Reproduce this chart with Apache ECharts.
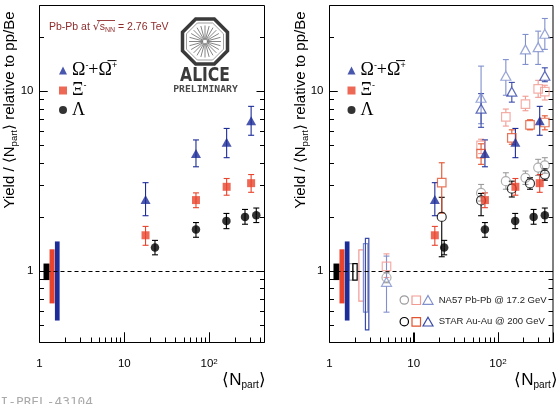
<!DOCTYPE html>
<html><head><meta charset="utf-8">
<script src="https://cdn.jsdelivr.net/npm/echarts@6/dist/echarts.min.js"></script>
<style>html,body{margin:0;padding:0;background:#fff}#c{width:556px;height:404px}</style>
</head><body><div id="c"></div>
<script>
// ---------------- data ----------------
const aliceOmegaNpart = [17.8, 70, 161, 313];
const aliceOmegaVal   = [2.5, 4.5, 5.2, 6.85];
const aliceOmegaLo    = [2.03, 3.8, 4.27, 5.69];
const aliceOmegaHi    = [3.1, 5.36, 6.21, 8.24];

const aliceXiNpart = [17.8, 70, 161, 313];
const aliceXiVal   = [1.58, 2.48, 2.94, 3.08];
const aliceXiLo    = [1.39, 2.25, 2.64, 2.74];
const aliceXiHi    = [1.77, 2.72, 3.27, 3.44];

const aliceLambdaNpart = [23, 70, 160, 265, 360];
const aliceLambdaVal   = [1.35, 1.70, 1.90, 2.0, 2.04];
const aliceLambdaLo    = [1.23, 1.54, 1.72, 1.82, 1.86];
const aliceLambdaHi    = [1.48, 1.86, 2.09, 2.2, 2.24];

const na57Npart     = [4.75, 63, 124, 212, 300, 360];
const na57LambdaVal = [0.92, 2.72, 3.16, 3.3, 3.76, 3.87];
const na57LambdaLo  = [0.86, 2.45, 2.85, 3.03, 3.4, 3.5];
const na57LambdaHi  = [0.98, 3.03, 3.52, 3.6, 4.18, 4.27];
const na57XiVal     = [1.06, 5.0, 7.2, 8.49, 10.3, 9.95];
const na57XiLo      = [0.92, 4.5, 6.4, 7.79, 9.25, 8.94];
const na57XiHi      = [1.245, 5.41, 7.96, 9.38, 11.5, 10.8];
const na57OmegaVal  = [0.87, 9.2, 12.2, 17.1, 17.6, 20.9];
const na57OmegaLo   = [0.59, 6.6, 9.5, 14.1, 14.1, 17.1];
const na57OmegaHi   = [1.21, 13.8, 15.0, 20.7, 21.6, 25.4];

const starNpart     = [21.5, 63, 146, 240, 360];
const starLambdaVal = [2.0, 2.47, 2.87, 3.07, 3.44];
const starLambdaLo  = [1.2, 2.03, 2.58, 2.85, 3.2];
const starLambdaHi  = [2.57, 2.7, 3.16, 3.3, 3.7];
const starXiVal     = [3.1, 4.5, 5.5, 6.5, 6.7];
const starXiLo      = [2.1, 3.92, 5.07, 6.1, 6.1];
const starXiHi      = [4.0, 5.1, 6.1, 6.94, 7.3];
const starOmegaNpart = [63, 146, 360];
const starOmegaVal   = [8.0, 9.95, 12.2];
const starOmegaLo    = [6.3, 8.7, 11.3];
const starOmegaHi    = [9.7, 11.2, 13.5];

const sysAliceNpartLo = [1.115, 1.314, 1.52];
const sysAliceNpartHi = [1.314, 1.506, 1.727];
const sysAliceLo      = [0.89, 0.66, 0.53];
const sysAliceHi      = [1.1, 1.32, 1.46];
const sysRefNpartLo = [1.7, 1.894, 2.232, 2.53, 2.67];
const sysRefNpartHi = [1.894, 2.129, 2.532, 2.85, 2.93];
const sysRefLo      = [0.89, 0.89, 0.68, 0.59, 0.47];
const sysRefHi      = [1.1, 1.1, 1.31, 1.42, 1.52];

const xMin = 1, xMax = 450, yMin = 0.4, yMax = 30;
const xTickLabels = {0: '1', 1: '10', 2: '10{sup|2}'};
const yTickLabels = {0: '1', 1: '10'};
const xMajorTicks = [10, 100];
const xMinorTicks = [2,3,4,5,6,7,8,9,20,30,40,50,60,70,80,90,200,300,400];
const yMajorTicks = [1, 10];
const yMinorTicks = [0.5,0.6,0.7,0.8,0.9,2,3,4,5,6,7,8,9,20];

// ---------------- styling ----------------
const C = {
  aBlue: '#1c2c98', aRed: '#e8432c', aBlack: '#000',
  nGrey: '#9c9c9c', nPink: '#f19a92', nBlue: '#8090cc',
  sBlack: '#000', sRed: '#e2532f', sBlue: '#3849a8'
};
const SANS = 'Liberation Sans, Arial, sans-serif';
const SERIF = 'Liberation Serif, DejaVu Serif, serif';

const zip = (a, b) => a.map((v, i) => [v, b[i]]);
const zip4 = (x, y, lo, hi) => x.map((v, i) => [v, y[i], lo[i], hi[i]]);

function errSeries(g, x, y, lo, hi, color, gap) {
  return {
    type: 'custom', name: 'err', xAxisIndex: g, yAxisIndex: g, silent: true, z: 3,
    data: zip4(x, y, lo, hi), encode: {x: 0, y: 1},
    renderItem: (params, api) => {
      const xv = api.value(0);
      const pc = api.coord([xv, api.value(1)]);
      const pb = api.coord([xv, api.value(2)]);
      const pt = api.coord([xv, api.value(3)]);
      const X = pc[0];
      const ch = [];
      if (pt[1] < pc[1] - gap) ch.push({type: 'line', shape: {x1: X, y1: pt[1], x2: X, y2: pc[1] - gap}, style: {stroke: color, lineWidth: 1.1}});
      if (pb[1] > pc[1] + gap) ch.push({type: 'line', shape: {x1: X, y1: pc[1] + gap, x2: X, y2: pb[1]}, style: {stroke: color, lineWidth: 1.1}});
      ch.push({type: 'line', shape: {x1: X - 3, y1: pt[1], x2: X + 3, y2: pt[1]}, style: {stroke: color, lineWidth: 1.1}});
      ch.push({type: 'line', shape: {x1: X - 3, y1: pb[1], x2: X + 3, y2: pb[1]}, style: {stroke: color, lineWidth: 1.1}});
      return {type: 'group', children: ch};
    }
  };
}
function markSeries(g, name, x, y, symbol, size, color, open) {
  return {
    type: 'scatter', name, xAxisIndex: g, yAxisIndex: g, data: zip(x, y), symbol, symbolSize: size, z: 5,
    itemStyle: open ? {color: 'rgba(0,0,0,0)', borderColor: color, borderWidth: 1.2} : {color},
    emphasis: {disabled: true}
  };
}
// inward axis ticks computed through the axis scales (api.coord)
function tickLines(api) {
  const out = [];
  const st = () => ({stroke: '#000', lineWidth: 1});
  const bottom = api.coord([xMin, yMin])[1];
  const left = api.coord([xMin, yMin])[0];
  const right = api.coord([xMax, yMin])[0];
  const xt = (v, len) => {
    const X = Math.round(api.coord([v, yMin])[0]) + 0.5;
    out.push({type: 'line', shape: {x1: X, y1: bottom, x2: X, y2: bottom - len}, style: st()});
  };
  const yt = (v, len) => {
    const Y = Math.round(api.coord([xMin, v])[1]) + 0.5;
    out.push({type: 'line', shape: {x1: left, y1: Y, x2: left + len, y2: Y}, style: st()});
    out.push({type: 'line', shape: {x1: right, y1: Y, x2: right - len, y2: Y}, style: st()});
  };
  xMajorTicks.forEach(v => xt(v, 10));
  xMinorTicks.forEach(v => xt(v, 5));
  yMajorTicks.forEach(v => yt(v, 8));
  yMinorTicks.forEach(v => yt(v, 4.5));
  return out;
}
function boxSeries(g, x1, x2, lo, hi, colors, open, withTicks) {
  return {
    type: 'custom', name: 'sys', xAxisIndex: g, yAxisIndex: g, silent: true, z: 4, clip: false,
    data: x1.map((v, i) => [v, lo[i], x2[i], hi[i]]), encode: {x: 0, y: 1},
    renderItem: (params, api) => {
      const a = api.coord([api.value(0), api.value(3)]);
      const b = api.coord([api.value(2), api.value(1)]);
      const col = colors[params.dataIndex];
      const rect = {type: 'rect', shape: {x: a[0], y: a[1], width: b[0] - a[0], height: b[1] - a[1]},
        style: open ? {fill: null, stroke: col, lineWidth: 1.2} : {fill: col}};
      if (withTicks && params.dataIndex === 0) {
        return {type: 'group', children: [rect, ...tickLines(api)]};
      }
      return rect;
    }
  };
}
function dashSeries(g) {
  return {
    type: 'scatter', name: 'unity', xAxisIndex: g, yAxisIndex: g, data: [], silent: true, z: 2,
    markLine: {silent: true, symbol: 'none', label: {show: false}, animation: false,
      lineStyle: {color: '#000', type: [4, 3], width: 1}, data: [{yAxis: 1}]}
  };
}
function aliceSeries(g) {
  return [
    dashSeries(g),
    boxSeries(g, sysAliceNpartLo, sysAliceNpartHi, sysAliceLo, sysAliceHi, [C.aBlack, C.aRed, C.aBlue], false, true),
    errSeries(g, aliceOmegaNpart, aliceOmegaVal, aliceOmegaLo, aliceOmegaHi, C.aBlue, 0),
    errSeries(g, aliceXiNpart, aliceXiVal, aliceXiLo, aliceXiHi, C.aRed, 0),
    errSeries(g, aliceLambdaNpart, aliceLambdaVal, aliceLambdaLo, aliceLambdaHi, C.aBlack, 0),
    markSeries(g, 'Omega', aliceOmegaNpart, aliceOmegaVal, 'triangle', [10, 9], C.aBlue, false),
    markSeries(g, 'Xi', aliceXiNpart, aliceXiVal, 'rect', 8, C.aRed, false),
    markSeries(g, 'Lambda', aliceLambdaNpart, aliceLambdaVal, 'circle', 8.5, C.aBlack, false)
  ];
}
const series = [
  ...aliceSeries(0),
  boxSeries(1, sysRefNpartLo, sysRefNpartHi, sysRefLo, sysRefHi, [C.nGrey, C.sBlack, C.nPink, C.nBlue, C.sBlue], true, false),
  errSeries(1, na57Npart, na57LambdaVal, na57LambdaLo, na57LambdaHi, C.nGrey, 4.5),
  errSeries(1, na57Npart, na57XiVal, na57XiLo, na57XiHi, C.nPink, 4.5),
  errSeries(1, na57Npart, na57OmegaVal, na57OmegaLo, na57OmegaHi, C.nBlue, 4.5),
  errSeries(1, starNpart, starLambdaVal, starLambdaLo, starLambdaHi, C.sBlack, 4.5),
  errSeries(1, starNpart, starXiVal, starXiLo, starXiHi, C.sRed, 4.5),
  errSeries(1, starOmegaNpart, starOmegaVal, starOmegaLo, starOmegaHi, C.sBlue, 4.5),
  markSeries(1, 'NA57 Lambda', na57Npart, na57LambdaVal, 'circle', 9, C.nGrey, true),
  markSeries(1, 'NA57 Xi', na57Npart, na57XiVal, 'rect', 8.5, C.nPink, true),
  markSeries(1, 'NA57 Omega', na57Npart, na57OmegaVal, 'triangle', [10, 9], C.nBlue, true),
  markSeries(1, 'STAR Lambda', starNpart, starLambdaVal, 'circle', 9, C.sBlack, true),
  markSeries(1, 'STAR Xi', starNpart, starXiVal, 'rect', 8.5, C.sRed, true),
  markSeries(1, 'STAR Omega', starOmegaNpart, starOmegaVal, 'triangle', [10, 9], C.sBlue, true),
  ...aliceSeries(1)
];

const grids = [
  {left: 39.5, top: 5.5, width: 225, height: 337},
  {left: 329.5, top: 5.5, width: 225, height: 337}
];
const decade = v => { const e = Math.log10(v); const r = Math.round(e); return Math.abs(e - r) < 1e-6 ? r : null; };

const xAxes = grids.map((_, i) => ({
  type: 'log', gridIndex: i, min: xMin, max: xMax,
  axisLine: {show: false}, splitLine: {show: false}, minorTick: {show: false},
  axisTick: {show: true, inside: true, length: 10, lineStyle: {color: '#000', width: 1}},
  axisLabel: {
    margin: 15, color: '#000', fontSize: 11.5, fontFamily: SANS,
    formatter: v => { const r = decade(v); return r !== null && xTickLabels[r] ? xTickLabels[r] : ''; },
    rich: {sup: {fontSize: 8, fontFamily: SANS, verticalAlign: 'top', lineHeight: 8, color: '#000'}}
  }
}));
const yAxes = grids.map((_, i) => ({
  type: 'log', gridIndex: i, min: yMin, max: yMax,
  axisLine: {show: false}, splitLine: {show: false}, minorTick: {show: false},
  axisTick: {show: true, inside: true, length: 8, lineStyle: {color: '#000', width: 1}},
  axisLabel: {
    margin: 6, color: '#000', fontSize: 11.5, fontFamily: SANS,
    formatter: v => { const r = decade(v); return r !== null && yTickLabels[r] ? yTickLabels[r] : ''; }
  }
}));

const legendNames = {Omega: '{g|Ω}{s|-}{g|+Ω\u0305}{s|+}', Xi: '{g|Ξ}{s|-}', Lambda: '{g|Λ}'};
const legends = [59, 347.5].map(left => ({
  data: ['Omega', 'Xi', 'Lambda'], left, top: 61, orient: 'vertical', padding: 0,
  itemGap: 1.5, itemWidth: 8, itemHeight: 8, selectedMode: false,
  formatter: n => legendNames[n],
  textStyle: {rich: {
    g: {fontFamily: SERIF, fontSize: 18, lineHeight: 19, color: '#000'},
    s: {fontFamily: SANS, fontSize: 9, lineHeight: 9, verticalAlign: 'top', color: '#000'}
  }}
}));

const ytitle = (x) => ({
  type: 'text', x, y: 110, rotation: Math.PI / 2, silent: true,
  style: {text: '{t|Yield / ⟨N}{b|part}{t|⟩ relative to pp/Be}', align: 'center', verticalAlign: 'middle',
    rich: {t: {fontSize: 15, fontFamily: SANS, fill: '#000', lineHeight: 19},
           b: {fontSize: 9.5, fontFamily: SANS, fill: '#000', lineHeight: 9, verticalAlign: 'bottom'}}}
});
const xtitle = (x) => ({
  type: 'text', x, y: 380, silent: true,
  style: {text: '{t|⟨N}{b|part}{t|⟩}', align: 'center', verticalAlign: 'middle',
    rich: {t: {fontSize: 17, fontFamily: SANS, fill: '#000', lineHeight: 20},
           b: {fontSize: 10, fontFamily: SANS, fill: '#000', lineHeight: 10, verticalAlign: 'bottom'}}}
});
const octa = (cx, cy, a) => {
  const R = a / Math.cos(Math.PI / 8), pts = [];
  for (let k = 0; k < 8; k++) { const t = Math.PI / 8 + k * Math.PI / 4; pts.push([cx + R * Math.cos(t), cy + R * Math.sin(t)]); }
  return pts;
};
const rays = [];
for (let k = 0; k < 24; k++) {
  const t = k * Math.PI / 12;
  rays.push({type: 'line', silent: true, shape: {x1: 205 + 2 * Math.cos(t), y1: 41.5 + 2 * Math.sin(t), x2: 205 + 16 * Math.cos(t), y2: 41.5 + 16 * Math.sin(t)},
    style: {stroke: '#666', lineWidth: 0.8}});
}
const legRow = (y, cols, label) => [
  {type: 'circle', silent: true, shape: {cx: 404.3, cy: y, r: 4.2}, style: {fill: null, stroke: cols[0], lineWidth: 1.2}},
  {type: 'rect', silent: true, shape: {x: 412, y: y - 4, width: 8.5, height: 8.5}, style: {fill: null, stroke: cols[1], lineWidth: 1.2}},
  {type: 'polygon', silent: true, shape: {points: [[428, y - 4.5], [433, y + 4.3], [423, y + 4.3]]}, style: {fill: null, stroke: cols[2], lineWidth: 1.2}},
  {type: 'text', silent: true, x: 438.7, y, style: {text: label, fontSize: 9.5, fontFamily: SANS, fill: '#222', align: 'left', verticalAlign: 'middle'}}
];
const graphic = [
  ytitle(9.5), ytitle(301), xtitle(244), xtitle(536),
  {type: 'text', silent: true, x: 49, y: 27,
   style: {text: '{a|Pb-Pb at }{r|√}{a|s}{d|NN}{a| = 2.76 TeV}', align: 'left', verticalAlign: 'middle',
     rich: {a: {fontSize: 10.5, fontFamily: SANS, fill: '#8e2b2b', lineHeight: 14},
            r: {fontSize: 11, fontFamily: 'DejaVu Sans', fill: '#8e2b2b', lineHeight: 14},
            d: {fontSize: 7, fontFamily: SANS, fill: '#8e2b2b', lineHeight: 7, verticalAlign: 'bottom'}}}},
  {type: 'line', silent: true, shape: {x1: 97, y1: 20.5, x2: 115, y2: 20.5}, style: {stroke: '#8e2b2b', lineWidth: 0.9}},
  {type: 'polygon', silent: true, shape: {points: octa(205, 41.5, 22.5)}, style: {fill: null, stroke: '#3a3a3a', lineWidth: 3.5}},
  {type: 'polygon', silent: true, shape: {points: octa(205, 41.5, 18.5)}, style: {fill: null, stroke: '#777', lineWidth: 0.7}},
  ...rays,
  {type: 'text', silent: true, x: 205, y: 76, scaleX: 0.82,
   style: {text: 'ALICE', fontSize: 19, fontWeight: 'bold', fontFamily: 'DejaVu Sans', fill: '#3a3a3a', align: 'center', verticalAlign: 'middle'}},
  {type: 'text', silent: true, x: 205.5, y: 89.5, scaleX: 1.22,
   style: {text: 'PRELIMINARY', fontSize: 8, fontWeight: 'bold', fontFamily: 'DejaVu Sans Mono', fill: '#4a4a4a', align: 'center', verticalAlign: 'middle'}},
  ...legRow(300, [C.nGrey, C.nPink, C.nBlue], 'NA57 Pb-Pb @ 17.2 GeV'),
  ...legRow(321.7, [C.sBlack, C.sRed, C.sBlue], 'STAR Au-Au @ 200 GeV'),
  {type: 'text', silent: true, x: 93, y: 396.5,
   style: {text: 'ALI-PREL-43104', fontSize: 12.8, fontFamily: 'DejaVu Sans Mono', fill: '#aaa', align: 'right', verticalAlign: 'top'}}
];

const chart = echarts.init(document.getElementById('c'), null, {renderer: 'canvas'});
chart.setOption({
  animation: false,
  backgroundColor: '#fff',
  grid: grids.map(g => Object.assign({show: true, borderColor: '#000', borderWidth: 1}, g)),
  xAxis: xAxes, yAxis: yAxes, legend: legends, series, graphic
});
</script></body></html>
